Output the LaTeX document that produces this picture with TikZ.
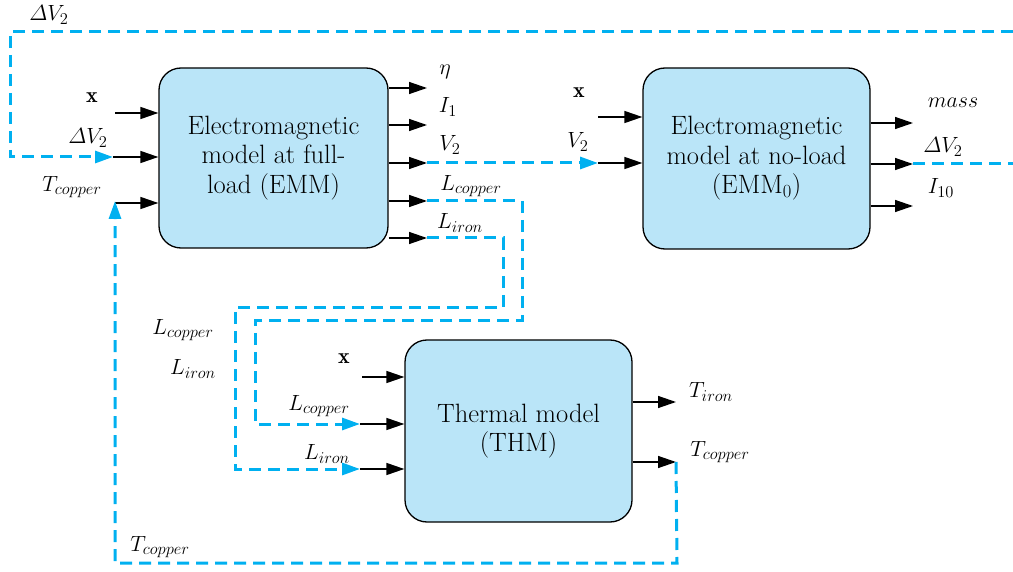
\RequirePackage{fix-cm}
\documentclass[tikz,border=0pt]{standalone}
\usepackage{amsmath}
\usepackage{fontspec}
\usetikzlibrary{arrows.meta}
\DeclareMathSizes{22}{22}{16.5}{12}
\definecolor{linkblue}{RGB}{0,176,240}
\definecolor{boxfill}{RGB}{186,229,248}
\begin{document}
\begin{tikzpicture}[x=1pt,y=-1pt,
  block/.style={draw=black, line width=1.3pt, fill=boxfill, rounded corners=22pt,
    align=center, font=\fontsize{26.5}{29.5}\selectfont, inner sep=0pt},
  sig/.style={draw=black, line width=1.4pt, -{Triangle[length=18pt,width=12pt]}},
  fb/.style={draw=linkblue, line width=3pt, dash pattern=on 12pt off 7pt},
  fbarrow/.style={fb, -{Triangle[length=18pt,width=12pt,fill=linkblue]}},
  lbl/.style={font=\fontsize{22}{26}\selectfont, inner sep=0pt}
]
\useasboundingbox (0,0) rectangle (1013,572);

% blocks
\node[block, minimum width=229pt, minimum height=180pt] (emm) at (273.5,158)
  {Electromagnetic\\model at full-\\load (EMM)};
\node[block, minimum width=227pt, minimum height=181pt] (emm0) at (756.5,158.5)
  {Electromagnetic\\model at no-load\\(EMM$_0$)};
\node[block, minimum width=227pt, minimum height=182pt] (thm) at (518.5,431)
  {Thermal model\\(THM)};

% EMM inputs
\coordinate (ix) at (115,113);
\coordinate (idv) at (113,157);
\coordinate (itc) at (115,203);
\draw[sig] (ix) -- (ix -| emm.west);
\draw[sig] (idv) -- (idv -| emm.west);
\draw[sig] (itc) -- (itc -| emm.west);

% EMM outputs
\coordinate (oeta) at (427,88);
\coordinate (oi1) at (427,125);
\coordinate (ov2) at (427,163);
\coordinate (olc) at (427,201);
\coordinate (oli) at (427,238);
\draw[sig] (oeta -| emm.east) -- (oeta);
\draw[sig] (oi1 -| emm.east) -- (oi1);
\draw[sig] (ov2 -| emm.east) -- (ov2);
\draw[sig] (olc -| emm.east) -- (olc);
\draw[sig] (oli -| emm.east) -- (oli);

% EMM0 inputs
\coordinate (jx) at (598,117);
\coordinate (jv2) at (598,163);
\draw[sig] (jx) -- (jx -| emm0.west);
\draw[sig] (jv2) -- (jv2 -| emm0.west);

% EMM0 outputs
\coordinate (pm) at (913,123);
\coordinate (pdv) at (913,164);
\coordinate (pi) at (913,206);
\draw[sig] (pm -| emm0.east) -- (pm);
\draw[sig] (pdv -| emm0.east) -- (pdv);
\draw[sig] (pi -| emm0.east) -- (pi);

% THM inputs
\coordinate (kx) at (362,377);
\coordinate (klc) at (360,424);
\coordinate (kli) at (360,469);
\draw[sig] (kx) -- (kx -| thm.west);
\draw[sig] (klc) -- (klc -| thm.west);
\draw[sig] (kli) -- (kli -| thm.west);

% THM outputs
\coordinate (qti) at (676,402);
\coordinate (qtc) at (676,462);
\draw[sig] (qti -| thm.east) -- (qti);
\draw[sig] (qtc -| thm.east) -- (qtc);

% feedback (dashed blue)
\coordinate (edgeTop) at (1013,32);
\coordinate (edgeMid) at (1013,164);
\draw[fbarrow] (edgeTop) -- (10,32) -- (10,157) -- (idv);
\draw[fb] (pdv) -- (edgeMid);
\draw[fbarrow] (ov2) -- (jv2);
\draw[fbarrow] (olc) -- (522,201) -- (522,321) -- (255,321) -- (255,424) -- (klc);
\draw[fbarrow] (oli) -- (503,238) -- (503,308) -- (235,308) -- (235,469) -- (kli);
\draw[fbarrow] (qtc) -- (677,563) -- (115,563) -- ([yshift=2pt]itc);

% labels
\node[lbl] (l1) at (49,15) {$\varDelta V_2$};
\node[lbl] (l2) at (92,98) {$\mathbf{x}$};
\node[lbl] (l3) at (88,138) {$\varDelta V_2$};
\node[lbl] (l4) at (72,187) {$T_{copper}$};
\node[lbl] (l5) at (445,72) {$\eta$};
\node[lbl] (l6) at (448,107) {$I_1$};
\node[lbl] (l7) at (450,145) {$V_2$};
\node[lbl] (l8) at (471,186) {$L_{copper}$};
\node[lbl] (l9) at (460,223) {$L_{iron}$};
\node[lbl] (l10) at (579,93) {$\mathbf{x}$};
\node[lbl] (l11) at (578,142) {$V_2$};
\node[lbl] (l12) at (953,103) {$mass$};
\node[lbl] (l13) at (943,147) {$\varDelta V_2$};
\node[lbl] (l14) at (941,188) {$I_{10}$};
\node[lbl] (l15) at (183,330) {$L_{copper}$};
\node[lbl] (l16) at (193,369) {$L_{iron}$};
\node[lbl] (l17) at (344,359) {$\mathbf{x}$};
\node[lbl] (l18) at (319,406) {$L_{copper}$};
\node[lbl] (l19) at (327,454) {$L_{iron}$};
\node[lbl] (l20) at (711,392) {$T_{iron}$};
\node[lbl] (l21) at (720,452) {$T_{copper}$};
\node[lbl] (l22) at (160,547) {$T_{copper}$};
\end{tikzpicture}
\end{document}
